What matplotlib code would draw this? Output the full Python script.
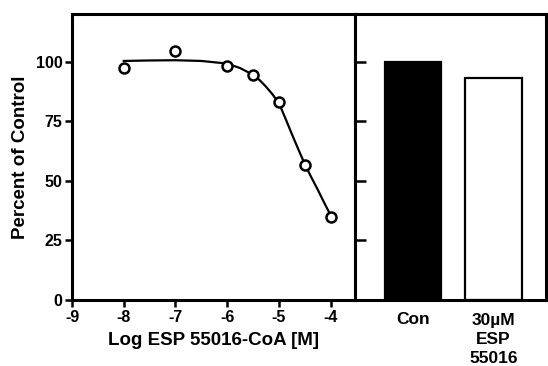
import matplotlib
matplotlib.use("Agg")
import matplotlib.pyplot as plt

plt.rcParams['font.family'] = ['Liberation Sans', 'DejaVu Sans']
plt.rcParams['font.weight'] = 'bold'
plt.rcParams['axes.unicode_minus'] = False

# dose response points (log M, percent of control)
log_conc = [-8, -7, -6, -5.5, -5, -4.5, -4]
percent = [97.5, 104.5, 98.3, 94.4, 82.9, 56.8, 35.0]

# fitted curve
curve_x = [-8, -7.5, -7, -6.5, -6, -5.75, -5.5, -5.375, -5.25, -5.125, -5,
           -4.875, -4.75, -4.625, -4.5, -4.375, -4.25, -4.125, -4]
curve_y = [100.3, 100.5, 100.6, 100.3, 99.2, 97.3, 94.5, 92.3, 89.5, 86.3, 82.6,
           76.2, 69.6, 63.2, 57.0, 51.5, 46.3, 40.8, 35.5]

# bar panel
bar_labels = ["Con", "30\u00b5M\nESP\n55016"]
bar_values = [100, 93]
bar_colors = ["black", "white"]

fig = plt.figure(figsize=(5.48, 3.66), dpi=100)
ax1 = fig.add_axes([72 / 548, 66 / 366, 283 / 548, 286 / 366])
ax2 = fig.add_axes([355 / 548, 66 / 366, 191 / 548, 286 / 366])

ax1.plot(curve_x, curve_y, color='black', lw=1.6, zorder=2,
         solid_joinstyle='round')
ax1.plot(log_conc, percent, 'o', ms=7.2, mfc='white', mec='black', mew=1.8, zorder=3)
ax1.set_xlim(-9, -3.53)
ax1.set_ylim(0, 120)
ax1.set_xticks([-9, -8, -7, -6, -5, -4])
ax1.set_yticks([0, 25, 50, 75, 100])
ax1.set_xlabel("Log ESP 55016-CoA [M]", fontsize=13.5, fontweight='bold', labelpad=5)
ax1.set_ylabel("Percent of Control", fontsize=13.5, fontweight='bold', labelpad=5)
ax1.tick_params(direction='out', length=5, width=1.8, labelsize=11.5, pad=2)
for s in ax1.spines.values():
    s.set_linewidth(2.2)

ax2.bar([0, 1], bar_values, width=0.7, color=bar_colors, edgecolor='black', lw=1.6)
ax2.set_xlim(-0.72, 1.65)
ax2.set_ylim(0, 120)
ax2.set_xticks([0, 1])
ax2.set_xticklabels(bar_labels, fontsize=12.5, fontweight='bold', va='top')
for lab in ax2.get_xticklabels():
    lab.set_linespacing(1.35)
ax2.tick_params(axis='y', direction='in', length=8, width=1.8, labelleft=False)
ax2.set_yticks([0, 25, 50, 75, 100])
ax2.tick_params(axis='x', length=0, pad=9)
for s in ax2.spines.values():
    s.set_linewidth(2.2)

fig.savefig("out.png", dpi=100)
